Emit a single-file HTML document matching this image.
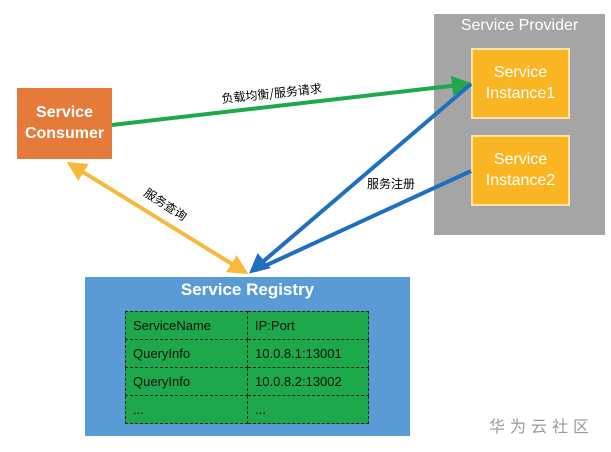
<!DOCTYPE html>
<html><head><meta charset="utf-8"><style>
body{margin:0;width:611px;height:452px;background:#fff;position:relative;overflow:hidden;font-family:"Liberation Sans","Noto Sans CJK SC",sans-serif}
.b{position:absolute;box-sizing:border-box}
.t{color:#fff;text-align:center;font-size:16px;line-height:21px}
table{border-collapse:collapse;position:absolute;left:125px;top:311px;width:244px;height:111px;background:#1ea84c;font-size:13px;color:#111}
td{border:1px dashed #222;padding:0 0 0 7px;height:27px}
</style></head><body>
<div class="b" style="left:434px;top:14px;width:171px;height:221px;background:#a6a5a6"></div>
<div class="b t" style="left:434px;top:15px;width:171px;font-size:16px">Service Provider</div>
<div class="b t" style="left:471px;top:48px;width:99px;height:71px;background:#f9b522;border:2px solid #fbe3a8;padding-top:12px">Service<br>Instance1</div>
<div class="b t" style="left:471px;top:135px;width:99px;height:71px;background:#f9b522;border:2px solid #fbe3a8;padding-top:12px">Service<br>Instance2</div>
<div class="b t" style="left:17px;top:88px;width:95px;height:71px;background:#e57b3a;padding-top:14px;font-weight:bold">Service<br>Consumer</div>
<div class="b" style="left:85px;top:277px;width:325px;height:159px;background:#5b9bd5"></div>
<div class="b t" style="left:85px;top:279px;width:325px;font-size:17px;font-weight:bold">Service Registry</div>
<table>
<tr><td style="width:114px">ServiceName</td><td>IP:Port</td></tr>
<tr><td>QueryInfo</td><td>10.0.8.1:13001</td></tr>
<tr><td>QueryInfo</td><td>10.0.8.2:13002</td></tr>
<tr><td>...</td><td>...</td></tr>
</table>
<svg width="611" height="452" style="position:absolute;left:0;top:0">
<defs>
<marker id="g" markerWidth="5" markerHeight="5" refX="4" refY="2.5" orient="auto" markerUnits="strokeWidth"><path d="M0,0L5,2.5L0,5z" fill="#1ea84c"/></marker>
<marker id="bl" markerWidth="5" markerHeight="5" refX="4" refY="2.5" orient="auto" markerUnits="strokeWidth"><path d="M0,0L5,2.5L0,5z" fill="#1f6fbf"/></marker>
<marker id="y" markerWidth="5" markerHeight="5" refX="4" refY="2.5" orient="auto-start-reverse" markerUnits="strokeWidth"><path d="M0,0L5,2.5L0,5z" fill="#f6b93b"/></marker>
</defs>
<line x1="112" y1="125" x2="468" y2="84" stroke="#1ea84c" stroke-width="4" marker-end="url(#g)"/>
<line x1="471" y1="84" x2="252" y2="271" stroke="#1f6fbf" stroke-width="4" marker-end="url(#bl)"/>
<line x1="471" y1="171" x2="256" y2="270" stroke="#1f6fbf" stroke-width="4"/>
<line x1="70" y1="164" x2="245" y2="272" stroke="#f6b93b" stroke-width="4" marker-start="url(#y)" marker-end="url(#y)"/>
<text x="222" y="103" font-size="12" transform="rotate(-6 222 103)" font-family="Noto Sans CJK SC,sans-serif">负载均衡/服务请求</text>
<text x="367" y="188" font-size="12" font-family="Noto Sans CJK SC,sans-serif">服务注册</text>
<text x="143" y="195" font-size="12" transform="rotate(33 143 195)" font-family="Noto Sans CJK SC,sans-serif">服务查询</text>
<text x="489" y="432" font-size="16" fill="#999" letter-spacing="5" font-family="Noto Sans CJK SC,sans-serif">华为云社区</text>
</svg>
</body></html>
